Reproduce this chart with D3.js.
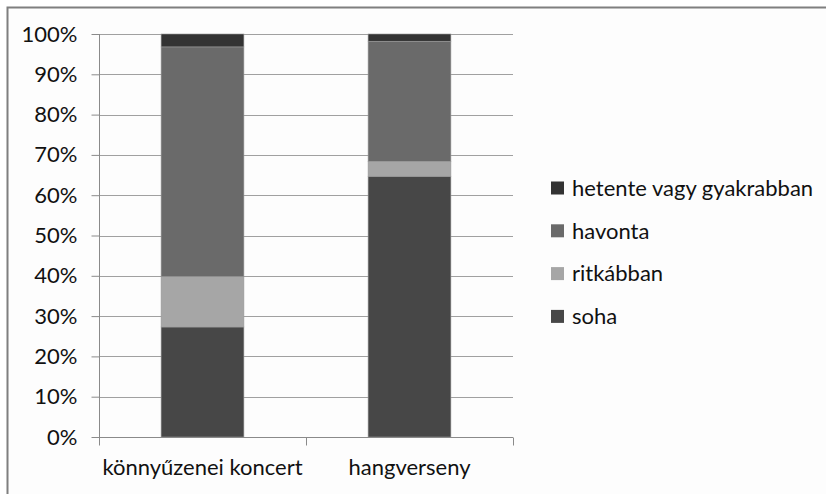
<!DOCTYPE html>
<html>
<head>
<meta charset="utf-8">
<script src="https://cdn.jsdelivr.net/npm/d3@7"></script>
<style>
  body { margin: 0; background: #fff; }
  svg { display: block; }
  text { font-family: Lato, "Open Sans", sans-serif; fill: #111; }
</style>
</head>
<body>
<svg width="826" height="494"></svg>
<script>
var categories = ["könnyűzenei koncert", "hangverseny"];
var seriesNames = ["soha", "ritkábban", "havonta", "hetente vagy gyakrabban"];
var soha = [27.3, 64.7];
var ritkabban = [12.5, 3.7];
var havonta = [57.0, 29.8];
var hetente = [3.2, 1.8];
var yTicks = [0, 10, 20, 30, 40, 50, 60, 70, 80, 90, 100];

var colors = ["#474747", "#a6a6a6", "#6a6a6a", "#333333"];

var svg = d3.select("svg"),
    width = +svg.attr("width"),
    height = +svg.attr("height");

// chart frame
svg.append("rect")
    .attr("x", 7.5).attr("y", 7.5)
    .attr("width", width + 10).attr("height", height + 10)
    .style("fill", "#fdfdfd").style("stroke", "#7f7f7f").style("stroke-width", 2);

var plotLeft = 99, plotRight = 513, plotTop = 34, plotBottom = 437;
var fontSize = "22px";

var x = d3.scaleBand().domain(categories).range([plotLeft, plotRight]).paddingInner(0.6).paddingOuter(0.3);
var xb = d3.scaleBand().domain(categories).range([plotLeft, plotRight]);
var y = d3.scaleLinear().domain([0, 100]).range([plotBottom, plotTop]);

// table for the stack
var table = categories.map(function(c, i) {
  return { cat: c, "soha": soha[i], "ritkábban": ritkabban[i], "havonta": havonta[i], "hetente vagy gyakrabban": hetente[i] };
});
var stacked = d3.stack().keys(seriesNames)(table);

// gridlines
svg.append("g")
  .selectAll("line")
  .data(yTicks.slice(1))
  .enter().append("line")
    .attr("x1", plotLeft).attr("x2", plotRight)
    .attr("y1", function(d) { return Math.round(y(d)) + 0.5; })
    .attr("y2", function(d) { return Math.round(y(d)) + 0.5; })
    .style("stroke", "#a0a0a0").style("stroke-width", 1.2);

// bars
svg.append("g")
  .selectAll("g")
  .data(stacked)
  .enter().append("g")
    .style("fill", function(d, i) { return colors[i]; })
  .selectAll("rect")
  .data(function(d) { return d; })
  .enter().append("rect")
    .attr("x", function(d) { return x(d.data.cat); })
    .attr("width", x.bandwidth())
    .attr("y", function(d) { return y(d[1]); })
    .attr("height", function(d) { return y(d[0]) - y(d[1]); })
    .style("stroke", "#9a9a9a").style("stroke-width", 0.6);

// y axis
var yAxis = svg.append("g")
    .attr("transform", "translate(" + (plotLeft + 0.5) + ",0)")
    .call(d3.axisLeft(y).tickValues(yTicks).tickSize(8).tickPadding(14)
      .tickFormat(function(d) { return d + "%"; }));
yAxis.select(".domain").style("stroke", "#8a8a8a").attr("d", "M0," + plotTop + "V" + plotBottom);
yAxis.selectAll(".tick line").style("stroke", "#8a8a8a");
yAxis.selectAll("text").style("font-size", fontSize).style("font-family", "Lato, sans-serif").style("fill", "#111");

// x axis
var xAxis = svg.append("g")
    .attr("transform", "translate(0," + (plotBottom + 0.5) + ")");
xAxis.append("line")
    .attr("x1", plotLeft).attr("x2", plotRight)
    .style("stroke", "#8a8a8a");
xAxis.selectAll("line.tk")
  .data([plotLeft].concat(categories.map(function(c) { return xb(c) + xb.bandwidth(); })))
  .enter().append("line")
    .attr("class", "tk")
    .attr("x1", function(d) { return Math.round(d) + 0.5; })
    .attr("x2", function(d) { return Math.round(d) + 0.5; })
    .attr("y1", 0).attr("y2", 8)
    .style("stroke", "#8a8a8a");
xAxis.selectAll("text")
  .data(categories)
  .enter().append("text")
    .attr("x", function(d) { return xb(d) + xb.bandwidth() / 2; })
    .attr("y", 37)
    .style("text-anchor", "middle")
    .style("font-size", fontSize)
    .text(function(d) { return d; });

// legend
var legendOrder = seriesNames.slice().reverse();
var legend = svg.append("g")
  .selectAll("g")
  .data(legendOrder)
  .enter().append("g")
    .attr("transform", function(d, i) { return "translate(551," + (188 + i * 42.8) + ")"; });
legend.append("rect")
    .attr("x", 0).attr("y", -6.5).attr("width", 13).attr("height", 13)
    .style("fill", function(d) { return colors[seriesNames.indexOf(d)]; });
legend.append("text")
    .attr("x", 21).attr("y", 0).attr("dy", "0.35em")
    .style("font-size", fontSize)
    .text(function(d) { return d; });
</script>
</body>
</html>
